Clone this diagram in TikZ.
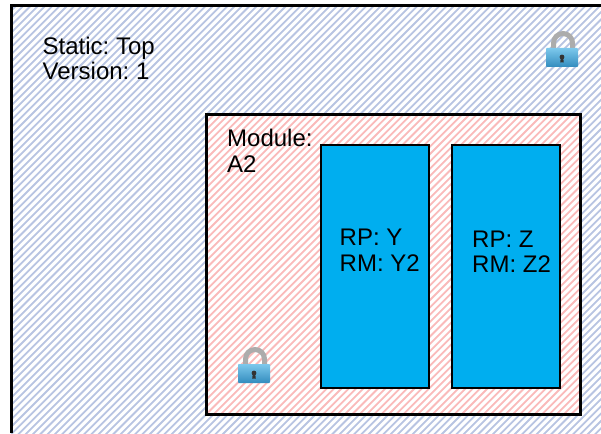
\documentclass[tikz,border=0pt]{standalone}
\usepackage{fontspec}
\setmainfont{Liberation Sans}
\definecolor{hatchblue}{RGB}{184,196,226}
\definecolor{hatchred}{RGB}{250,186,186}
\definecolor{rpblue}{RGB}{0,174,239}
\definecolor{lockA}{RGB}{125,200,236}
\definecolor{lockB}{RGB}{50,140,190}
\tikzset{
  boxline/.style={draw=black,line width=2.4pt},
  rpbox/.style={draw=black,line width=2.4pt,fill=rpblue},
  lbl/.style={inner sep=0pt,anchor=north west,align=left,font=\fontsize{24}{25.5}\selectfont\frenchspacing,text=black},
  hatchline/.style={line width=1.8pt},
  shackle/.style={line width=5pt,draw=gray!65,line cap=butt}
}
\newcommand{\hatchfill}[5]{% x0,y0,x1,y1,colour
  \begin{scope}
    \clip (#1,#2) rectangle (#3,#4);
    \foreach \k in {0,7.3,...,1100}
      \draw[hatchline,#5] (\k,0) -- ++(-445,445);
  \end{scope}}
\newcommand{\padlock}[2]{% left, top of body
  \begin{scope}[shift={(#1,#2)}]
    \draw[shackle] (7.5,1) -- (7.5,-5) arc[start angle=180,end angle=360,x radius=9.5,y radius=9.5] -- (26.5,1);
    \shade[top color=lockA,bottom color=lockB,rounded corners=0.8pt] (0,0) rectangle (32,19);
    \fill[black!80] (16,9) circle[radius=2.4];
    \fill[black!80] (14.9,9) -- (17.1,9) -- (17.8,14.5) -- (14.2,14.5) -- cycle;
  \end{scope}}
\begin{document}
\begin{tikzpicture}[x=1pt,y=-1pt]
  \useasboundingbox (0,0) rectangle (601,433);
  \fill[white] (0,0) rectangle (601,433);
  \hatchfill{11}{5}{601}{433}{hatchblue}
  \draw[boxline] (11.5,433) -- (11.5,5.5) -- (601,5.5);
  \fill[white] (206,114) rectangle (581,415);
  \hatchfill{206}{114}{581}{415}{hatchred}
  \draw[boxline] (206.5,114.5) rectangle (580.5,414.5);
  \node[rpbox,inner sep=0pt,anchor=north west,text width=108pt,minimum height=243pt] (rpy) at (320,144) {};
  \node[rpbox,inner sep=0pt,anchor=north west,text width=108pt,minimum height=243pt] (rpz) at (451,144) {};
  \node[lbl] (static) at (42.5,36.5) {Static: Top\\Version: 1};
  \node[lbl] (module) at (227,129) {Module:\\A2};
  \node[lbl] (yt) at (339.5,229) {RP: Y\\RM: Y2};
  \node[lbl] (zt) at (472,230.5) {RP: Z\\RM: Z2};
  \padlock{546}{48}
  \padlock{238}{364}
\end{tikzpicture}
\end{document}
